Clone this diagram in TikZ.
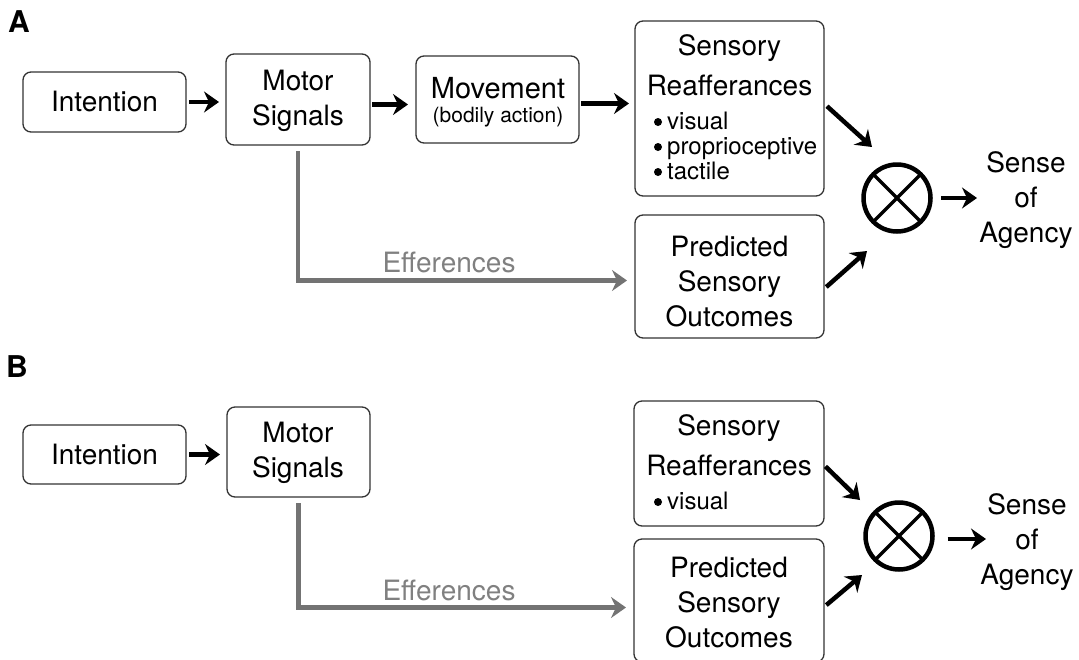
\documentclass[tikz,border=0pt]{standalone}
\usepackage{fontspec}
\setmainfont{TeX Gyre Heros}
\usetikzlibrary{arrows.meta,calc}
\begin{document}
\begin{tikzpicture}[x=1pt,y=-1pt,
  box/.style={draw=black!80, line width=1.3pt, rounded corners=8pt, inner sep=0pt, outer sep=0pt},
  txt/.style={font=\fontsize{28}{35}\selectfont, align=center, inner sep=0pt},
  subtxt/.style={font=\fontsize{21}{24}\selectfont, align=center, inner sep=0pt},
  bul/.style={font=\fontsize{24}{25}\selectfont, inner sep=0pt, anchor=base west},
  dot/.style={circle, fill=black, inner sep=0pt, minimum size=8pt},
  panel/.style={font=\fontsize{30}{30}\selectfont\bfseries, inner sep=0pt},
  arr/.style={line width=4.5pt, draw=black, -{Stealth[length=15pt,width=21pt,inset=5pt]}},
  eff/.style={line width=4.5pt, draw=black!55, -{Stealth[length=15pt,width=21pt,inset=5pt]}},
  efftxt/.style={font=\fontsize{28}{35}\selectfont, text=black!50, inner sep=0pt},
  comp/.style={circle, draw=black, line width=4.5pt, minimum size=67pt, inner sep=0pt, outer sep=0pt},
  cross/.style={line width=3.5pt}
]
\useasboundingbox (0,0) rectangle (1079,659);

% ---------------- Panel A ----------------
\node[panel] (labA) at (19,22) {A};
\node[box, minimum width=163pt, minimum height=60pt] (intA) at (104.5,102) {};
\node[txt] (intAt) at (104.5,102) {Intention};
\node[box, minimum width=144pt, minimum height=91pt] (motA) at (298,99.5) {};
\node[txt] (motAt) at (298,100.5) {Motor\\Signals};
\node[box, minimum width=163pt, minimum height=87pt] (movA) at (497.5,99.5) {};
\node[txt, font=\fontsize{29}{35}\selectfont] (movAt) at (498,88) {Movement};
\node[subtxt] (movAs) at (498,117) {(bodily action)};
\node[box, minimum width=189pt, minimum height=175pt] (sensA) at (729.5,108.5) {};
\node[txt] (sensAt1) at (729.5,48) {Sensory};
\node[txt] (sensAt2) at (729.5,85) {Reafferances};
\node[dot] (dA1) at (658,122) {};
\node[bul] (bA1) at (667,129) {visual};
\node[dot] (dA2) at (658,147) {};
\node[bul] (bA2) at (667,154) {proprioceptive};
\node[dot] (dA3) at (658,172) {};
\node[bul] (bA3) at (667,179) {tactile};
\node[box, minimum width=189pt, minimum height=123pt] (predA) at (729.5,276.5) {};
\node[txt] (predAt) at (729.5,282) {Predicted\\Sensory\\Outcomes};
\node[comp] (cirA) at (897,198) {};
\draw[cross] (cirA.45) -- (cirA.225) (cirA.135) -- (cirA.315);
\node[txt] (senseA) at (1026,200) {Sense\\of\\Agency};

\coordinate (m0) at (intA.east);
\draw[arr, shorten <=3pt, shorten >=7pt] (m0) -- (m0 -| motA.west);
\coordinate (m1) at ([yshift=-5pt]motA.east);
\draw[arr, shorten <=2pt, shorten >=8pt] (m1) -- (m1 -| movA.west);
\coordinate (m2) at ([yshift=-4pt]movA.east);
\draw[arr, shorten <=2pt, shorten >=6pt] (m2) -- (m2 -| sensA.west);
\coordinate (s1) at ([yshift=5pt]sensA.east);
\coordinate (tA1) at ($(cirA)+(-25,-51)$);
\draw[arr, shorten <=4pt] (s1) -- (tA1);
\coordinate (p1) at ([yshift=-12.5pt]predA.east);
\coordinate (tA2) at ($(cirA)+(-30,53)$);
\draw[arr, shorten <=3pt] (p1) -- (tA2);
\coordinate (oA) at (977,198);
\draw[arr, shorten <=10.5pt] (cirA.east) -- (oA);
\coordinate (eA) at ([yshift=-6pt]motA.south);
\draw[eff, shorten >=8pt] (eA) |- ([yshift=-4pt]predA.west);
\node[efftxt] (effA) at (449,262) {Efferences};

% ---------------- Panel B ----------------
\node[panel] (labB) at (17,367) {B};
\node[box, minimum width=163pt, minimum height=59pt] (intB) at (104.5,454.5) {};
\node[txt] (intBt) at (104.5,454.5) {Intention};
\node[box, minimum width=143pt, minimum height=90pt] (motB) at (298.5,452) {};
\node[txt] (motBt) at (298,453) {Motor\\Signals};
\node[box, minimum width=190pt, minimum height=125pt] (sensB) at (729,463.5) {};
\node[txt] (sensBt1) at (729,428) {Sensory};
\node[txt] (sensBt2) at (729,465) {Reafferances};
\node[dot] (dB1) at (658,502) {};
\node[bul] (bB1) at (667,509) {visual};
\node[box, minimum width=190pt, minimum height=123pt] (predB) at (729,600.5) {};
\node[txt] (predBt) at (729,603) {Predicted\\Sensory\\Outcomes};
\node[comp] (cirB) at (899,536) {};
\draw[cross] (cirB.45) -- (cirB.225) (cirB.135) -- (cirB.315);
\node[txt] (senseB) at (1027,542.5) {Sense\\of\\Agency};

\coordinate (n0) at (intB.east);
\draw[arr, shorten <=3pt, shorten >=7pt] (n0) -- (n0 -| motB.west);
\coordinate (s2) at ([yshift=-1.5pt]sensB.east);
\coordinate (tB1) at ($(cirB)+(-39,-36)$);
\draw[arr, shorten <=2pt] (s2) -- (tB1);
\coordinate (p2) at ([yshift=-6.5pt]predB.east);
\coordinate (tB2) at ($(cirB)+(-37,39)$);
\draw[arr, shorten <=3pt] (p2) -- (tB2);
\coordinate (oB) at (986,539);
\draw[arr, shorten <=15pt] (cirB.east |- oB) -- (oB);
\coordinate (eB) at ([yshift=-6pt]motB.south);
\draw[eff, shorten >=8pt] (eB) |- ([yshift=-7pt]predB.west);
\node[efftxt] (effB) at (449,590) {Efferences};
\end{tikzpicture}
\end{document}
